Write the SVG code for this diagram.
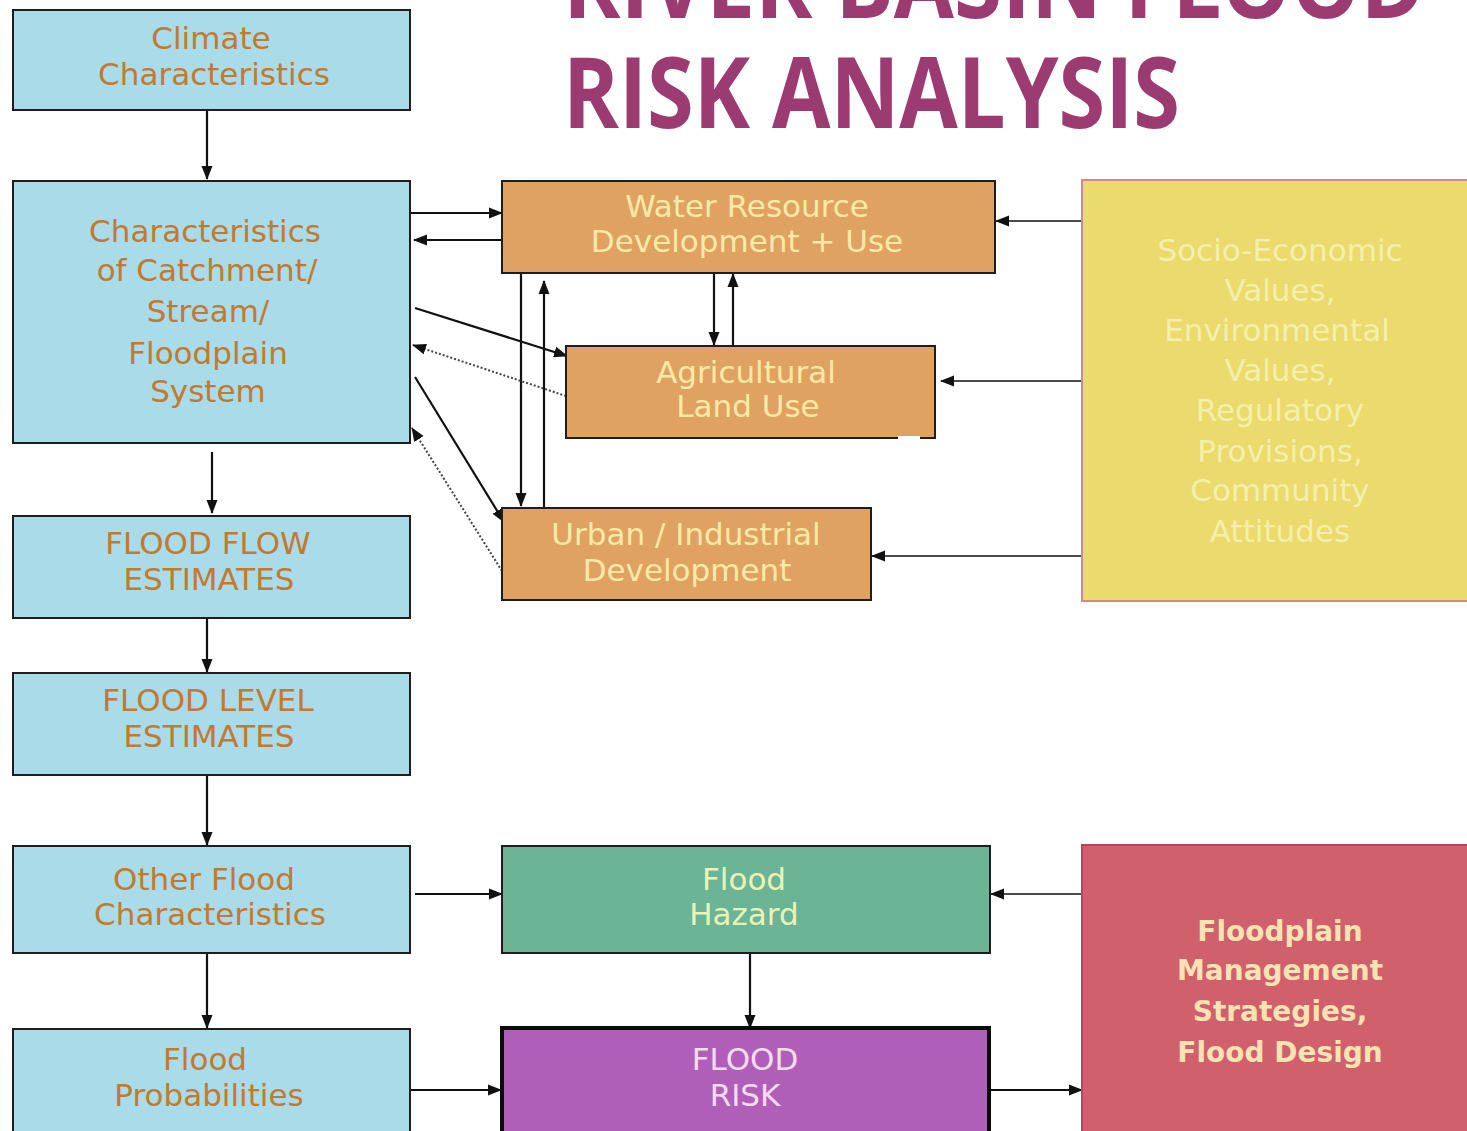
<svg xmlns="http://www.w3.org/2000/svg" width="1467" height="1131" viewBox="0 0 1467 1131">
<style>
.box{stroke:#1e1e1e;stroke-width:2}
.blue{fill:#a9dbe9}
.orange{fill:#dfa262}
.t{font-family:"DejaVu Sans","Liberation Sans",sans-serif;font-size:31px;text-anchor:middle}
.tb{fill:#c27a30}
.tl{fill:#fbeaa6}
.title{font-family:"Open Sans","Liberation Sans",sans-serif;font-weight:700;font-size:98px;fill:#9c3a72}
.c{stroke:#111;stroke-width:2.2;fill:none}
.d{stroke:#444;stroke-width:2;stroke-dasharray:2 2;fill:none}
</style>
<defs>
<marker id="a" markerWidth="14" markerHeight="12" refX="13" refY="6" orient="auto" markerUnits="userSpaceOnUse">
<path d="M0,0.5 L14,6 L0,11.5 Z" fill="#111"/>
</marker>
</defs>
<rect width="1467" height="1131" fill="#ffffff"/>

<g id="title">
<text class="title" x="563" y="18" textLength="862" lengthAdjust="spacingAndGlyphs">RIVER BASIN FLOOD</text>
<text class="title" x="563" y="128" textLength="617" lengthAdjust="spacingAndGlyphs">RISK ANALYSIS</text>
</g>

<g id="connectors">
<line class="c" x1="207" y1="110" x2="207" y2="179" marker-end="url(#a)"/>
<line class="c" x1="212" y1="452" x2="212" y2="513" marker-end="url(#a)"/>
<line class="c" x1="207" y1="618" x2="207" y2="672" marker-end="url(#a)"/>
<line class="c" x1="207" y1="775" x2="207" y2="845" marker-end="url(#a)"/>
<line class="c" x1="207" y1="953" x2="207" y2="1028" marker-end="url(#a)"/>
<line class="c" x1="410" y1="213" x2="502" y2="213" marker-end="url(#a)"/>
<line class="c" x1="502" y1="240" x2="414" y2="240" marker-end="url(#a)"/>
<line class="c" x1="521" y1="273" x2="521" y2="506" marker-end="url(#a)"/>
<line class="c" x1="544" y1="508" x2="544" y2="281" marker-end="url(#a)"/>
<line class="c" x1="714" y1="273" x2="714" y2="345" marker-end="url(#a)"/>
<line class="c" x1="733" y1="346" x2="733" y2="274" marker-end="url(#a)"/>
<line class="c" x1="415" y1="308" x2="567" y2="356" marker-end="url(#a)"/>
<line class="d" x1="566" y1="396" x2="413" y2="345" marker-end="url(#a)"/>
<line class="c" x1="415" y1="377" x2="504" y2="522" marker-end="url(#a)"/>
<line class="d" x1="502" y1="571" x2="412" y2="428" marker-end="url(#a)"/>
<line class="c" x1="1082" y1="221" x2="996" y2="221" marker-end="url(#a)" style="stroke-width:1.5"/>
<line class="c" x1="1082" y1="381" x2="941" y2="381" marker-end="url(#a)" style="stroke-width:1.5"/>
<line class="c" x1="1082" y1="556" x2="872" y2="556" marker-end="url(#a)" style="stroke-width:1.5"/>
<line class="c" x1="415" y1="894" x2="502" y2="894" marker-end="url(#a)"/>
<line class="c" x1="1082" y1="894" x2="991" y2="894" marker-end="url(#a)" style="stroke-width:1.5"/>
<line class="c" x1="750" y1="953" x2="750" y2="1028" marker-end="url(#a)"/>
<line class="c" x1="410" y1="1090" x2="501" y2="1090" marker-end="url(#a)"/>
<line class="c" x1="989" y1="1090" x2="1082" y2="1090" marker-end="url(#a)"/>
</g>

<g id="climate">
<rect class="box blue" x="13" y="10" width="397" height="100"/>
<text class="t tb" x="211" y="49">Climate</text>
<text class="t tb" x="214" y="85">Characteristics</text>
</g>

<g id="catchment">
<rect class="box blue" x="13" y="181" width="397" height="262"/>
<text class="t tb" x="205" y="242">Characteristics</text>
<text class="t tb" x="207" y="281">of Catchment/</text>
<text class="t tb" x="208" y="322">Stream/</text>
<text class="t tb" x="208" y="364">Floodplain</text>
<text class="t tb" x="208" y="402">System</text>
</g>

<g id="flow">
<rect class="box blue" x="13" y="516" width="397" height="102"/>
<text class="t tb" x="208" y="554">FLOOD FLOW</text>
<text class="t tb" x="209" y="590">ESTIMATES</text>
</g>

<g id="level">
<rect class="box blue" x="13" y="673" width="397" height="102"/>
<text class="t tb" x="208" y="711">FLOOD LEVEL</text>
<text class="t tb" x="209" y="747">ESTIMATES</text>
</g>

<g id="other">
<rect class="box blue" x="13" y="846" width="397" height="107"/>
<text class="t tb" x="204" y="890">Other Flood</text>
<text class="t tb" x="210" y="925">Characteristics</text>
</g>

<g id="prob">
<rect class="box blue" x="13" y="1029" width="397" height="110"/>
<text class="t tb" x="205" y="1070">Flood</text>
<text class="t tb" x="209" y="1106">Probabilities</text>
</g>

<g id="water">
<rect class="box orange" x="502" y="181" width="493" height="92"/>
<text class="t tl" x="747" y="217">Water Resource</text>
<text class="t tl" x="747" y="252">Development + Use</text>
</g>

<g id="agri">
<rect class="box orange" x="566" y="346" width="369" height="92"/>
<rect x="898" y="436" width="22" height="4" fill="#ffffff"/>
<text class="t tl" x="746" y="383">Agricultural</text>
<text class="t tl" x="748" y="417">Land Use</text>
</g>

<g id="urban">
<rect class="box orange" x="502" y="508" width="369" height="92"/>
<text class="t tl" x="686" y="545">Urban / Industrial</text>
<text class="t tl" x="687" y="581">Development</text>
</g>

<g id="socio">
<rect x="1082" y="180" width="390" height="421" fill="#ebda6d" stroke="#cf8a86" stroke-width="2"/>
<text class="t" fill="#f6efaa" x="1280" y="261">Socio-Economic</text>
<text class="t" fill="#f6efaa" x="1280" y="301">Values,</text>
<text class="t" fill="#f6efaa" x="1277" y="341">Environmental</text>
<text class="t" fill="#f6efaa" x="1280" y="381">Values,</text>
<text class="t" fill="#f6efaa" x="1280" y="421">Regulatory</text>
<text class="t" fill="#f6efaa" x="1280" y="462">Provisions,</text>
<text class="t" fill="#f6efaa" x="1280" y="501">Community</text>
<text class="t" fill="#f6efaa" x="1280" y="542">Attitudes</text>
</g>

<g id="hazard">
<rect x="502" y="846" width="488" height="107" fill="#6bb596" stroke="#1e1e1e" stroke-width="2"/>
<text class="t" fill="#eaf3b6" x="744" y="890">Flood</text>
<text class="t" fill="#eaf3b6" x="744" y="925">Hazard</text>
</g>

<g id="risk">
<rect x="502" y="1028" width="487" height="115" fill="#b05fb9" stroke="#0a0a0a" stroke-width="4"/>
<text class="t" fill="#f9dcf2" x="745" y="1070">FLOOD</text>
<text class="t" fill="#f9dcf2" x="745" y="1106">RISK</text>
</g>

<g id="floodplain">
<rect x="1082" y="845" width="390" height="300" fill="#d0606c" stroke="#b04862" stroke-width="2"/>
<text class="t" fill="#f9e3b4" font-weight="700" style="font-size:28px" x="1280" y="941">Floodplain</text>
<text class="t" fill="#f9e3b4" font-weight="700" style="font-size:28px" x="1280" y="980">Management</text>
<text class="t" fill="#f9e3b4" font-weight="700" style="font-size:28px" x="1280" y="1021">Strategies,</text>
<text class="t" fill="#f9e3b4" font-weight="700" style="font-size:28px" x="1280" y="1062">Flood Design</text>
</g>
</svg>
